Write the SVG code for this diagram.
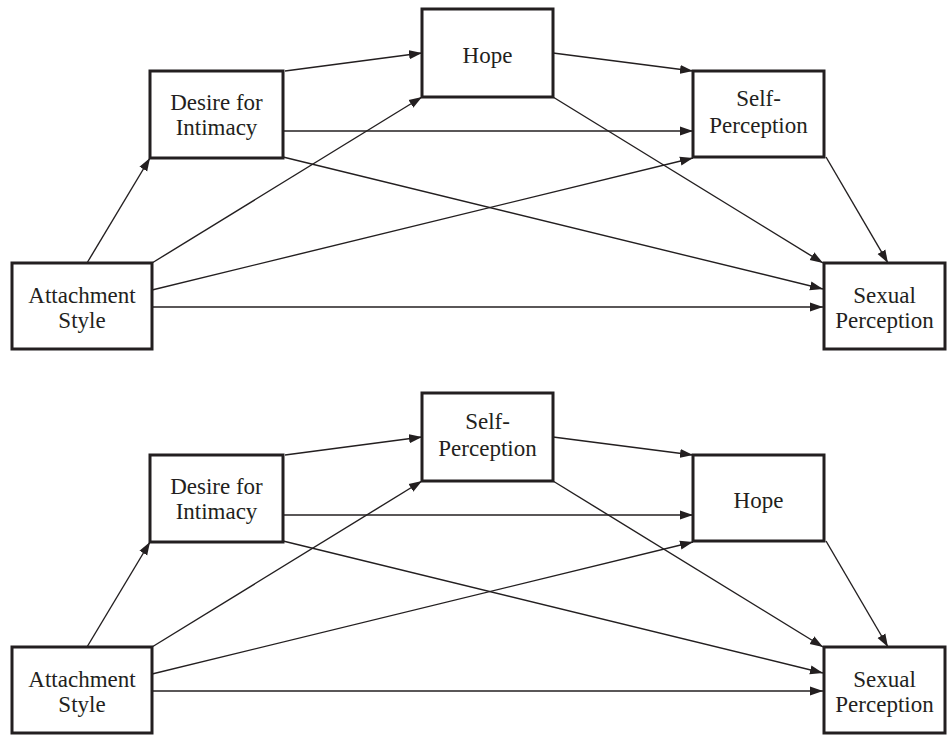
<svg xmlns="http://www.w3.org/2000/svg" width="947" height="735" viewBox="0 0 947 735">
<style>
.box{fill:#fff;stroke:#231f20;stroke-width:3}
.lbl{font-family:"Liberation Serif","Times New Roman",serif;font-size:23px;fill:#231f20;text-anchor:middle}
.c line{stroke:#231f20;stroke-width:1.4;marker-end:url(#ah)}
</style>
<defs>
<marker id="ah" markerUnits="userSpaceOnUse" markerWidth="14" markerHeight="10" refX="13" refY="5" orient="auto">
<path d="M0,0.5 L13,5 L0,9.5 Z" fill="#231f20"/>
</marker>
</defs>
<rect width="947" height="735" fill="#fff"/>
<g class="c" id="connectors-top">
<line x1="87" y1="263" x2="150" y2="158"/>
<line x1="285" y1="71" x2="422" y2="53"/>
<line x1="553" y1="53" x2="693" y2="71"/>
<line x1="283" y1="131" x2="693" y2="131"/>
<line x1="283" y1="157" x2="823" y2="289"/>
<line x1="152" y1="263" x2="422" y2="97"/>
<line x1="152" y1="290" x2="693" y2="158"/>
<line x1="152" y1="307" x2="823" y2="307"/>
<line x1="553" y1="97" x2="823" y2="263"/>
<line x1="826" y1="157" x2="888" y2="263"/>
</g>
<g class="c" id="connectors-bottom">
<line x1="87" y1="647" x2="150" y2="542"/>
<line x1="285" y1="455" x2="422" y2="437"/>
<line x1="553" y1="437" x2="693" y2="455"/>
<line x1="283" y1="515" x2="693" y2="515"/>
<line x1="283" y1="541" x2="823" y2="673"/>
<line x1="152" y1="647" x2="422" y2="481"/>
<line x1="152" y1="674" x2="693" y2="542"/>
<line x1="152" y1="691" x2="823" y2="691"/>
<line x1="553" y1="481" x2="823" y2="647"/>
<line x1="826" y1="541" x2="888" y2="647"/>
</g>
<g id="top-attachment"><rect class="box" x="12" y="263" width="140" height="86"/><text class="lbl" x="82" y="303">Attachment</text><text class="lbl" x="82" y="328">Style</text></g>
<g id="top-desire"><rect class="box" x="150" y="71" width="133" height="87"/><text class="lbl" x="216.5" y="110">Desire for</text><text class="lbl" x="216.5" y="135">Intimacy</text></g>
<g id="top-hope"><rect class="box" x="422" y="9" width="131" height="88"/><text class="lbl" x="487.5" y="63">Hope</text></g>
<g id="top-self"><rect class="box" x="693" y="71" width="131" height="86"/><text class="lbl" x="758.5" y="106">Self-</text><text class="lbl" x="758.5" y="133">Perception</text></g>
<g id="top-sexual"><rect class="box" x="824" y="263" width="121" height="86"/><text class="lbl" x="884.5" y="303">Sexual</text><text class="lbl" x="884.5" y="328">Perception</text></g>
<g id="bottom-attachment"><rect class="box" x="12" y="647" width="140" height="86"/><text class="lbl" x="82" y="687">Attachment</text><text class="lbl" x="82" y="712">Style</text></g>
<g id="bottom-desire"><rect class="box" x="150" y="455" width="133" height="87"/><text class="lbl" x="216.5" y="494">Desire for</text><text class="lbl" x="216.5" y="519">Intimacy</text></g>
<g id="bottom-self"><rect class="box" x="422" y="393" width="131" height="88"/><text class="lbl" x="487.5" y="429">Self-</text><text class="lbl" x="487.5" y="456">Perception</text></g>
<g id="bottom-hope"><rect class="box" x="693" y="455" width="131" height="86"/><text class="lbl" x="758.5" y="508">Hope</text></g>
<g id="bottom-sexual"><rect class="box" x="824" y="647" width="121" height="86"/><text class="lbl" x="884.5" y="687">Sexual</text><text class="lbl" x="884.5" y="712">Perception</text></g>
</svg>
